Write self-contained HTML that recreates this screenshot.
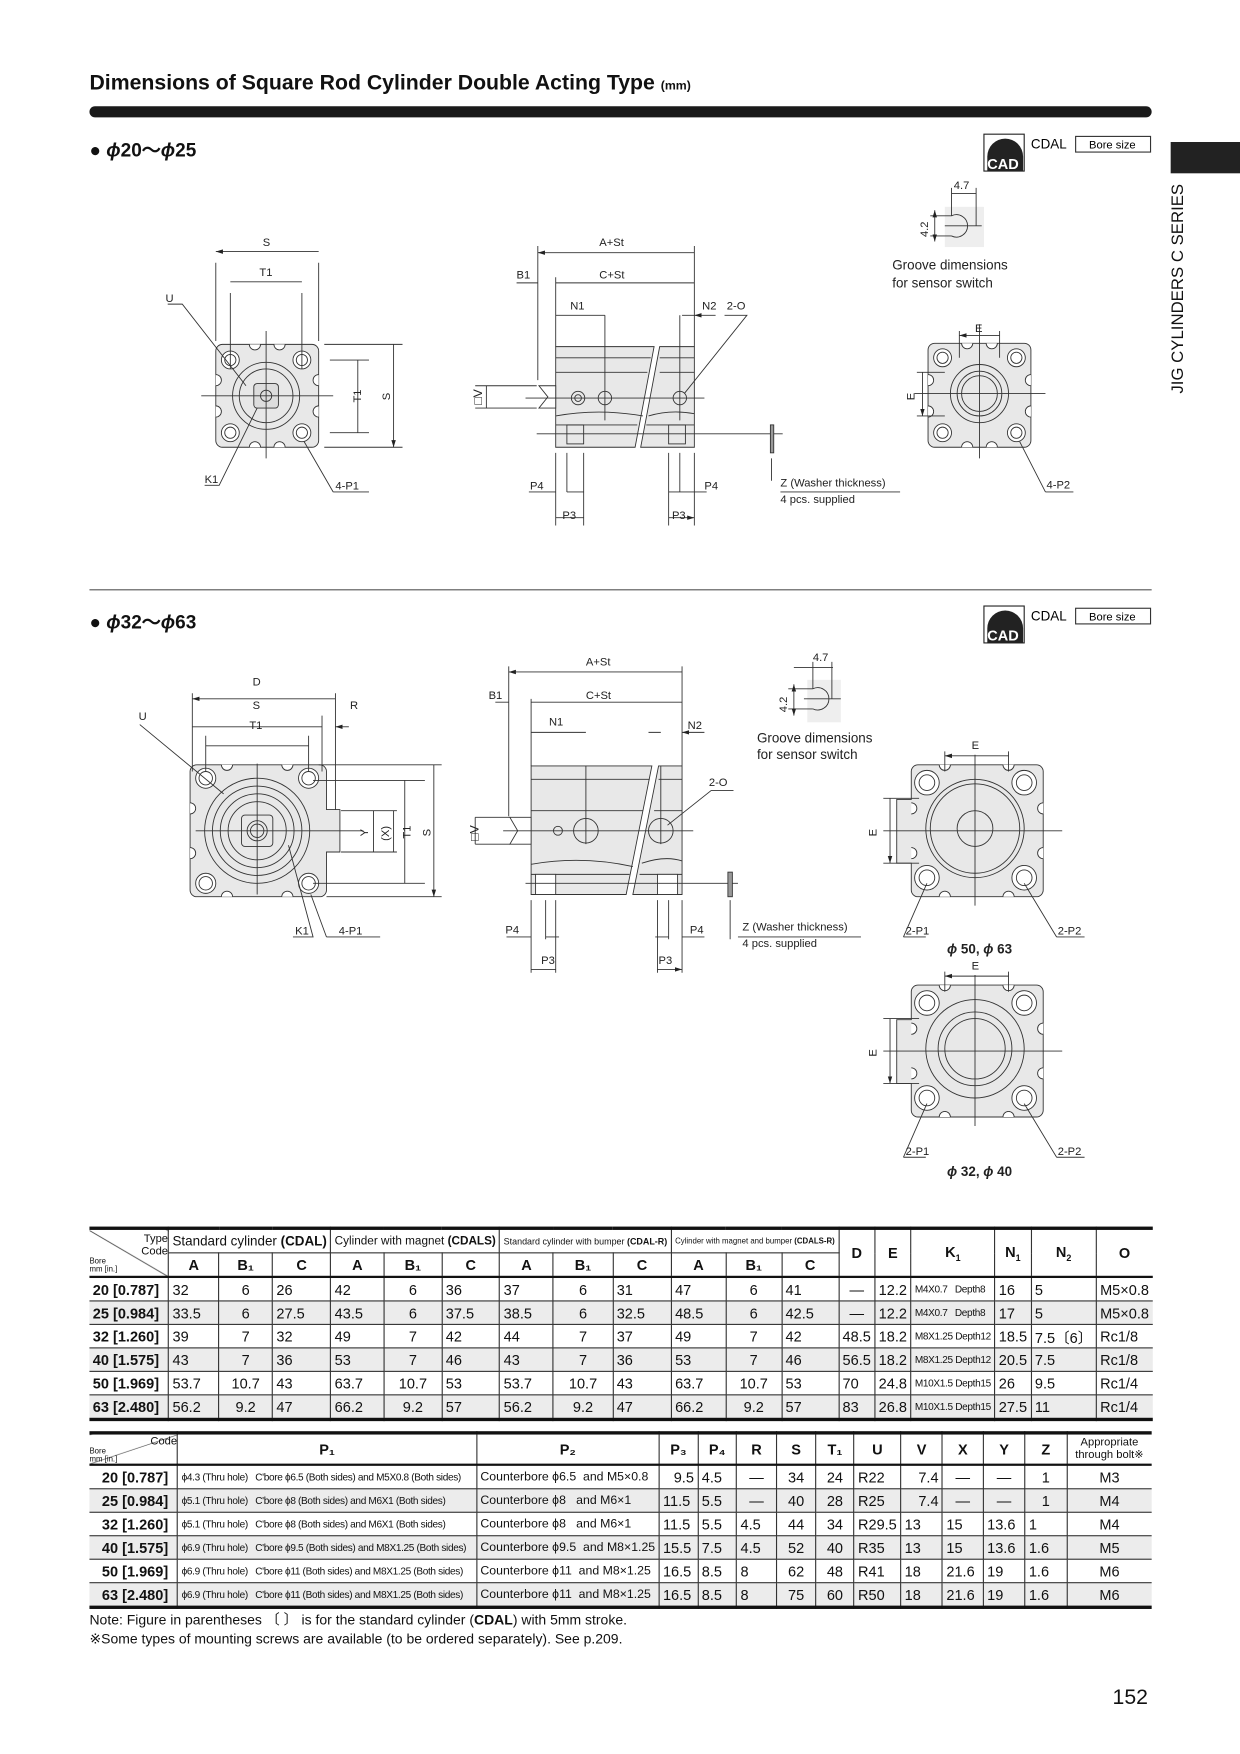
<!DOCTYPE html>
<html><head><meta charset="utf-8">
<style>
html,body{margin:0;padding:0;background:#fff;}
body{width:1240px;height:1754px;overflow:hidden;position:relative;font-family:"Liberation Sans",Arial,sans-serif;color:#111;}
#pg{position:absolute;left:0;top:0;width:1109px;height:1569px;transform:scale(1.11812);transform-origin:0 0;}
.abs{position:absolute;}
table{border-collapse:collapse;position:absolute;font-size:13px;}
td{border:1px solid #333;height:20px;padding:0 3px;white-space:nowrap;}
tr.g td{background:#ececec;}
td.b{font-weight:bold;text-align:right;padding-right:8px;font-size:13px;}
td.h{font-weight:bold;text-align:center;}
.t1{left:80px;top:1097px;width:950px;border-top:3px solid #111;border-bottom:3px solid #111;}
.t2{left:80px;top:1280px;width:950px;border-top:3px solid #111;border-bottom:3px solid #111;}
td.s{font-size:9px;letter-spacing:-0.3px;}
td.c{text-align:center;}
td.r{text-align:right;}
tr:first-child td{border-top:none}
tr:last-child td{border-bottom:none}
td:first-child{border-left:none}
td:last-child{border-right:none}
</style></head><body><div id="pg">
<div class="abs" style="left:80px;top:64px;font-size:19px;font-weight:bold;">Dimensions of Square Rod Cylinder Double Acting Type <span style="font-size:11px">(mm)</span></div>
<div class="abs" style="left:80px;top:95px;width:950px;height:10px;background:#1a1a1a;border-radius:5px;"></div>
<div class="abs" style="left:1047px;top:127px;width:62px;height:28px;background:#222;"></div>
<div class="abs" style="left:1045px;top:352px;transform:rotate(-90deg);transform-origin:0 0;font-size:15px;white-space:nowrap;">JIG CYLINDERS C SERIES</div>
<div class="abs" style="left:80px;top:120px;font-size:17px;font-weight:bold;">● <i>ϕ</i>20～<i>ϕ</i>25</div>
<div class="abs" style="left:80px;top:542px;font-size:17px;font-weight:bold;">● <i>ϕ</i>32～<i>ϕ</i>63</div>
<div class="abs" style="left:80px;top:527px;width:950px;height:1px;background:#555;"></div>
<div class="abs" style="left:995px;top:1508px;font-size:19px;">152</div>
<div class="abs" style="left:80px;top:1441px;font-size:12.5px;line-height:17px;">Note: Figure in parentheses 〔 〕 is for the standard cylinder (<b>CDAL</b>) with 5mm stroke.<br>※Some types of mounting screws are available (to be ordered separately). See p.209.</div>

<svg class="abs" style="left:0;top:0" width="1109" height="1100" viewBox="0 0 1109 1100" font-family="Liberation Sans,Arial,sans-serif" font-size="10">
<defs><marker id="a" markerWidth="8" markerHeight="6" refX="8" refY="3" orient="auto-start-reverse"><path d="M0,0.5 L8,3 L0,5.5" fill="#222"/></marker></defs>
<g id="cad"><rect x="880" y="120" width="36" height="33" fill="#fff" stroke="#222"/><path d="M883,153 V140 A15,15 0 0 1 915,140 V153Z" fill="#222"/><text x="883" y="151" fill="#fff" font-weight="bold" font-size="13">CAD</text><text x="922" y="133" font-size="12">CDAL</text><rect x="962" y="122" width="67" height="14" fill="#fff" stroke="#333"/><text x="974" y="133" font-size="10">Bore size</text></g>
<use href="#cad" transform="translate(0,422)"/>
<g stroke="#333" fill="none" stroke-width="0.8">
<rect x="193" y="308" width="92" height="92" rx="6" fill="#e8e8e8"/>
<circle cx="238" cy="354" r="30"/><circle cx="238" cy="354" r="24"/>
<rect x="227" y="343" width="22" height="22" rx="3" fill="#ddd"/><circle cx="238" cy="354" r="5"/>
<circle cx="206" cy="322" r="8" fill="#fff"/><circle cx="206" cy="322" r="5"/>
<circle cx="270" cy="322" r="8" fill="#fff"/><circle cx="270" cy="322" r="5"/>
<circle cx="206" cy="387" r="8" fill="#fff"/><circle cx="206" cy="387" r="5"/>
<circle cx="270" cy="387" r="8" fill="#fff"/><circle cx="270" cy="387" r="5"/>
<path d="M193,335 a5,5 0 0 1 0,10 M193,363 a5,5 0 0 1 0,10 M285,335 a5,5 0 0 0 0,10 M285,363 a5,5 0 0 0 0,10 M223,308 a5,5 0 0 0 10,0 M245,308 a5,5 0 0 0 10,0 M223,400 a5,5 0 0 1 10,0 M245,400 a5,5 0 0 1 10,0" fill="#fff"/>
<path d="M238,296 V410 M180,354 H298"/>
<path d="M193,235 V305 M285,235 V305 M206,262 V330 M270,262 V330 M290,308 H360 M290,400 H360 M295,322 H330 M295,387 H330"/>
<path d="M193,225 H285 M206,252 H270 M320,322 V387 M352,308 V400" marker-start="url(#a)" marker-end="url(#a)"/>
<path d="M150,272 H163 L220,345 M183,434 H196 L230,365 M298,440 H330 M298,440 L272,395"/>
<path d="M497,310 H585 L568,400 H497Z" fill="#e8e8e8"/><path d="M590,310 H621 V400 H573Z" fill="#e8e8e8"/>
<path d="M497,320 H582 M497,333 H579 M590,320 H621 M590,333 H621 M497,380 H570 M578,380 H621" />
<path d="M497,372 Q535,365 575,372 M580,372 Q600,366 621,370" />
<rect x="507" y="380" width="15" height="17"/><rect x="598" y="380" width="15" height="17"/>
<path d="M482,345 H497 V365 H482 L490,355Z" fill="#fff"/>
<circle cx="517" cy="356" r="6"/><circle cx="517" cy="356" r="3"/><circle cx="541" cy="356" r="6"/><circle cx="608" cy="356" r="6"/>
<path d="M470,356 H630 M480,388 H700 M541,282 V376 M608,282 V376"/>
<path d="M481,220 V340 M621,220 V310 M497,248 V310 M497,405 V470 M507,405 V440 M522,405 V470 M598,405 V470 M608,405 V440 M621,405 V470"/>
<path d="M481,226 H621 M497,253 H621 M497,282 H541 M435,345 V365 M497,463 H522 M598,463 H621" marker-start="url(#a)" marker-end="url(#a)"/>
<path d="M462,253 H481 M473,440 H497 M522,440 H507 M632,440 H608 M598,440 H608 M610,282 H621 M640,282 H621" marker-end="url(#a)"/>
<path d="M425,345 H480 M425,365 H480"/>
<path d="M648,282 H668 L612,352"/>
<rect x="689" y="380" width="3" height="25" fill="#999"/><path d="M690,410 V430 M698,440 H805"/>
<rect x="845" y="185" width="35" height="36" fill="#eee" stroke="none"/>
<path d="M851,193 A10,10 0 1 1 851,211 M845,202 H878 M851,173 H873 M851,168 V193 M873,168 V202 M832,193 H851 M832,211 H851" />
<path d="M836,188 V216" marker-start="url(#a)" marker-end="url(#a)"/>
<rect x="830" y="307" width="92" height="93" rx="6" fill="#e8e8e8"/>
<path d="M830,335 a5,5 0 0 1 0,10 M830,363 a5,5 0 0 1 0,10 M922,335 a5,5 0 0 0 0,10 M922,363 a5,5 0 0 0 0,10 M860,307 a5,5 0 0 0 10,0 M882,307 a5,5 0 0 0 10,0 M860,400 a5,5 0 0 1 10,0 M882,400 a5,5 0 0 1 10,0" fill="#fff"/>
<circle cx="876" cy="352" r="26"/><circle cx="876" cy="352" r="20"/><circle cx="876" cy="352" r="16"/>
<circle cx="843" cy="320" r="8" fill="#fff"/><circle cx="909" cy="320" r="8" fill="#fff"/><circle cx="843" cy="387" r="8" fill="#fff"/><circle cx="909" cy="387" r="8" fill="#fff"/>
<circle cx="843" cy="320" r="5"/><circle cx="909" cy="320" r="5"/><circle cx="843" cy="387" r="5"/><circle cx="909" cy="387" r="5"/>
<path d="M876,290 V410 M818,352 H935 M858,296 V320 M894,296 V320 M820,333 H845 M820,372 H845"/>
<path d="M858,300 H894 M825,333 V372" marker-start="url(#a)" marker-end="url(#a)"/>
<path d="M935,440 H960 M935,440 L912,395"/>

<path d="M170,690 a6,6 0 0 1 6,-6 H286 a6,6 0 0 1 6,6 V724 H304 V762 H292 V796 a6,6 0 0 1 -6,6 H176 a6,6 0 0 1 -6,-6Z" fill="#e8e8e8"/>
<path d="M170,718 a5,5 0 0 1 0,10 M170,758 a5,5 0 0 1 0,10 M198,684 a5,5 0 0 0 10,0 M252,684 a5,5 0 0 0 10,0 M198,802 a5,5 0 0 1 10,0 M252,802 a5,5 0 0 1 10,0" fill="#fff"/>
<circle cx="230" cy="743" r="47"/><circle cx="230" cy="743" r="40"/><circle cx="230" cy="743" r="33"/><circle cx="230" cy="743" r="26"/>
<rect x="216" y="729" width="28" height="28" rx="3"/><circle cx="230" cy="743" r="9"/><circle cx="230" cy="743" r="6"/>
<circle cx="184" cy="696" r="9" fill="#fff"/><circle cx="276" cy="696" r="9" fill="#fff"/><circle cx="184" cy="790" r="9" fill="#fff"/><circle cx="276" cy="790" r="9" fill="#fff"/>
<circle cx="184" cy="696" r="6"/><circle cx="276" cy="696" r="6"/><circle cx="184" cy="790" r="6"/><circle cx="276" cy="790" r="6"/>
<path d="M230,683 V800 M175,743 H325"/>
<path d="M172,620 V690 M300,620 V724 M288,640 V690 M184,658 V690 M276,658 V690 M285,684 H395 M280,698 H380 M305,725 H355 M305,762 H355 M280,790 H380 M292,802 H395"/>
<path d="M172,625 H300 M172,650 H288 M184,667 H276 M334,725 V762 M352,725 V762 M362,698 V790 M388,684 V802" marker-start="url(#a)" marker-end="url(#a)"/>
<path d="M312,650 H300" marker-end="url(#a)"/>
<path d="M125,648 L200,710 M262,838 H280 L258,756 M292,838 H340 M292,838 L278,800"/>
<path d="M475,685 H583 L560,800 H475Z" fill="#e8e8e8"/><path d="M589,685 H610 V800 H566Z" fill="#e8e8e8"/>
<path d="M475,697 H581 M475,725 H575 M589,697 H610 M585,725 H610 M475,782 H563 M572,782 H610"/>
<path d="M475,773 Q520,765 566,775 M574,772 Q595,765 610,770"/>
<rect x="479" y="782" width="18" height="18" fill="#fff"/><rect x="588" y="782" width="18" height="18" fill="#fff"/>
<path d="M456,731 H475 V755 H456 L463,743Z" fill="#fff"/>
<circle cx="499" cy="743" r="4"/><circle cx="524" cy="743" r="11"/><circle cx="591" cy="743" r="11"/>
<path d="M450,743 H620 M470,790 H660 M524,685 V755 M591,685 V755"/>
<path d="M455,596 V730 M610,596 V685 M475,625 V685 M475,805 V870 M488,805 V840 M497,805 V870 M588,805 V870 M598,805 V840 M610,805 V870"/>
<path d="M455,601 H610 M475,628 H610 M475,655 H524 M425,731 V755 M475,867 H497 M588,867 H610" marker-start="url(#a)" marker-end="url(#a)"/>
<path d="M443,628 H455 M453,838 H475 M500,838 H488 M586,838 H598 M630,838 H610 M580,655 H591 M630,655 H610" marker-end="url(#a)"/>
<path d="M425,731 H456 M425,755 H456 M656,707 H636 L597,738"/>
<rect x="651" y="780" width="4" height="22" fill="#999"/><path d="M653,805 V840 M660,838 H770"/>
<rect x="722" y="608" width="30" height="38" fill="#eee" stroke="none"/>
<path d="M727,616 A10,10 0 1 1 727,634 M719,625 H752 M710,597 H745 M727,592 V616 M744,592 V625 M705,616 H727 M705,634 H727"/>
<path d="M710,612 V640" marker-start="url(#a)" marker-end="url(#a)"/>
<g id="rv"><path d="M815,690 a6,6 0 0 1 6,-6 H927 a6,6 0 0 1 6,6 V796 a6,6 0 0 1 -6,6 H821 a6,6 0 0 1 -6,-6 V772 H802 V715 H815Z" fill="#e8e8e8"/>
<path d="M815,718 a5,5 0 0 1 0,10 M815,758 a5,5 0 0 1 0,10 M933,718 a5,5 0 0 0 0,10 M933,758 a5,5 0 0 0 0,10 M840,684 a5,5 0 0 0 10,0 M897,684 a5,5 0 0 0 10,0 M840,802 a5,5 0 0 1 10,0 M897,802 a5,5 0 0 1 10,0" fill="#fff"/>
<circle cx="829" cy="700" r="11" fill="#fff"/><circle cx="829" cy="700" r="7"/><circle cx="916" cy="700" r="11" fill="#fff"/><circle cx="916" cy="700" r="7"/>
<circle cx="829" cy="785" r="11" fill="#fff"/><circle cx="829" cy="785" r="7"/><circle cx="916" cy="785" r="11" fill="#fff"/><circle cx="916" cy="785" r="7"/>
<path d="M872,675 V810 M790,743 H950 M845,672 V690 M902,672 V690 M790,714 H822 M790,772 H822"/>
<path d="M845,676 H902 M796,714 V772" marker-start="url(#a)" marker-end="url(#a)"/>
<path d="M808,838 H828 M808,838 L829,790 M970,838 H945 M945,838 L916,790"/></g>
<circle cx="872" cy="741" r="44"/><circle cx="872" cy="741" r="40"/><circle cx="872" cy="741" r="16"/>
<use href="#rv" transform="translate(0,197)"/>
<circle cx="872" cy="938" r="44"/><circle cx="872" cy="938" r="33"/><circle cx="872" cy="938" r="27"/>
</g>
<g font-size="10" fill="#222">
<text x="235" y="220">S</text><text x="232" y="247">T1</text><text x="148" y="270">U</text><text x="183" y="432">K1</text><text x="300" y="438">4-P1</text>
<text transform="translate(323,360) rotate(-90)">T1</text><text transform="translate(349,358) rotate(-90)">S</text>
<text x="536" y="220">A+St</text><text x="462" y="249">B1</text><text x="536" y="249">C+St</text><text x="510" y="277">N1</text><text x="628" y="277">N2</text><text x="650" y="277">2-O</text>
<text transform="translate(431,362) rotate(-90)" font-size="11">□V</text>
<text x="474" y="438">P4</text><text x="630" y="438">P4</text><text x="503" y="464">P3</text><text x="601" y="464">P3</text>
<text x="698" y="435">Z (Washer thickness)</text><text x="698" y="450">4 pcs. supplied</text>
<text x="853" y="169">4.7</text><text transform="translate(830,212) rotate(-90)">4.2</text>
<text x="798" y="241" font-size="12">Groove dimensions</text><text x="798" y="257" font-size="12">for sensor switch</text>
<text x="872" y="297">E</text><text transform="translate(818,358) rotate(-90)">E</text><text x="936" y="437">4-P2</text>
<text x="226" y="613">D</text><text x="226" y="634">S</text><text x="223" y="652">T1</text><text x="313" y="634">R</text><text x="124" y="644">U</text>
<text transform="translate(329,748) rotate(-90)">Y</text><text transform="translate(348,752) rotate(-90)">(X)</text><text transform="translate(367,750) rotate(-90)">T1</text><text transform="translate(385,748) rotate(-90)">S</text>
<text x="264" y="836">K1</text><text x="303" y="836">4-P1</text>
<text x="524" y="595">A+St</text><text x="437" y="625">B1</text><text x="524" y="625">C+St</text><text x="491" y="649">N1</text><text x="615" y="652">N2</text><text x="634" y="703">2-O</text>
<text transform="translate(428,752) rotate(-90)" font-size="11">□V</text>
<text x="452" y="835">P4</text><text x="617" y="835">P4</text><text x="484" y="862">P3</text><text x="589" y="862">P3</text>
<text x="664" y="832">Z (Washer thickness)</text><text x="664" y="847">4 pcs. supplied</text>
<text x="727" y="591">4.7</text><text transform="translate(704,637) rotate(-90)">4.2</text>
<text x="677" y="664" font-size="12">Groove dimensions</text><text x="677" y="679" font-size="12">for sensor switch</text>
<text x="869" y="670">E</text><text transform="translate(784,748) rotate(-90)">E</text>
<text x="810" y="836">2-P1</text><text x="946" y="836">2-P2</text>
<text x="847" y="853" font-weight="bold" font-size="12"><tspan font-style="italic">ϕ</tspan> 50, <tspan font-style="italic">ϕ</tspan> 63</text>
<text x="869" y="867">E</text><text transform="translate(784,945) rotate(-90)">E</text>
<text x="810" y="1033">2-P1</text><text x="946" y="1033">2-P2</text>
<text x="847" y="1052" font-weight="bold" font-size="12"><tspan font-style="italic">ϕ</tspan> 32, <tspan font-style="italic">ϕ</tspan> 40</text>
</g>
</svg>

<table class="t1">
<colgroup><col style="width:80px"><col style="width:44px"><col style="width:47px"><col style="width:51px"><col style="width:45px"><col style="width:49px"><col style="width:49px"><col style="width:44px"><col style="width:49px"><col style="width:48px"><col style="width:47px"><col style="width:48px"><col style="width:49px"><col style="width:46px"><col style="width:47px"><col style="width:65px"><col style="width:44px"><col style="width:50px"><col style="width:48px"></colgroup>
<tr><td rowspan="2" style="font-size:9px;background:linear-gradient(to top right,#fff 49%,#333 50%,#fff 51%);padding:0;height:40px;"><div style="text-align:right;font-size:10px">Type</div><div style="text-align:right;font-size:10px">Code</div><div style="font-size:7px">Bore<br>mm [in.]</div></td>
<td colspan="3" style="font-size:12px">Standard cylinder <b>(CDAL)</b></td><td colspan="3" style="font-size:10.5px">Cylinder with magnet <b>(CDALS)</b></td><td colspan="3" style="font-size:8px">Standard cylinder with bumper <b>(CDAL-R)</b></td><td colspan="3" style="font-size:7px">Cylinder with magnet and bumper <b>(CDALS-R)</b></td>
<td rowspan="2" class="h">D</td><td rowspan="2" class="h">E</td><td rowspan="2" class="h">K<sub style="font-size:8px">1</sub></td><td rowspan="2" class="h">N<sub style="font-size:8px">1</sub></td><td rowspan="2" class="h">N<sub style="font-size:8px">2</sub></td><td rowspan="2" class="h">O</td></tr>
<tr><td class="h">A</td><td class="h">B₁</td><td class="h">C</td><td class="h">A</td><td class="h">B₁</td><td class="h">C</td><td class="h">A</td><td class="h">B₁</td><td class="h">C</td><td class="h">A</td><td class="h">B₁</td><td class="h">C</td></tr>
<tr style="border-top:2px solid #111"><td class="b">20 [0.787]</td><td>32</td><td class="c">6</td><td>26</td><td>42</td><td class="c">6</td><td>36</td><td>37</td><td class="c">6</td><td>31</td><td>47</td><td class="c">6</td><td>41</td><td class="c">—</td><td class="r">12.2</td><td class="s">M4X0.7 &nbsp; Depth8</td><td>16</td><td>5</td><td>M5×0.8</td></tr>
<tr class="g"><td class="b">25 [0.984]</td><td>33.5</td><td class="c">6</td><td>27.5</td><td>43.5</td><td class="c">6</td><td>37.5</td><td>38.5</td><td class="c">6</td><td>32.5</td><td>48.5</td><td class="c">6</td><td>42.5</td><td class="c">—</td><td class="r">12.2</td><td class="s">M4X0.7 &nbsp; Depth8</td><td>17</td><td>5</td><td>M5×0.8</td></tr>
<tr><td class="b">32 [1.260]</td><td>39</td><td class="c">7</td><td>32</td><td>49</td><td class="c">7</td><td>42</td><td>44</td><td class="c">7</td><td>37</td><td>49</td><td class="c">7</td><td>42</td><td>48.5</td><td class="r">18.2</td><td class="s">M8X1.25 Depth12</td><td>18.5</td><td>7.5〔6〕</td><td>Rc1/8</td></tr>
<tr class="g"><td class="b">40 [1.575]</td><td>43</td><td class="c">7</td><td>36</td><td>53</td><td class="c">7</td><td>46</td><td>43</td><td class="c">7</td><td>36</td><td>53</td><td class="c">7</td><td>46</td><td>56.5</td><td class="r">18.2</td><td class="s">M8X1.25 Depth12</td><td>20.5</td><td>7.5</td><td>Rc1/8</td></tr>
<tr><td class="b">50 [1.969]</td><td>53.7</td><td class="c">10.7</td><td>43</td><td>63.7</td><td class="c">10.7</td><td>53</td><td>53.7</td><td class="c">10.7</td><td>43</td><td>63.7</td><td class="c">10.7</td><td>53</td><td>70</td><td class="r">24.8</td><td class="s">M10X1.5 Depth15</td><td>26</td><td>9.5</td><td>Rc1/4</td></tr>
<tr class="g"><td class="b">63 [2.480]</td><td>56.2</td><td class="c">9.2</td><td>47</td><td>66.2</td><td class="c">9.2</td><td>57</td><td>56.2</td><td class="c">9.2</td><td>47</td><td>66.2</td><td class="c">9.2</td><td>57</td><td>83</td><td class="r">26.8</td><td class="s">M10X1.5 Depth15</td><td>27.5</td><td>11</td><td>Rc1/4</td></tr>
</table>

<table class="t2">
<colgroup><col style="width:80px"><col style="width:268px"><col style="width:156px"><col style="width:35px"><col style="width:36px"><col style="width:37px"><col style="width:37px"><col style="width:36px"><col style="width:35px"><col style="width:39px"><col style="width:37px"><col style="width:38px"><col style="width:39px"><col style="width:77px"></colgroup>
<tr style="border-bottom:2px solid #111"><td style="height:26px;padding:0;background:linear-gradient(to bottom right,#fff 49%,#333 50%,#fff 51%);"><div style="text-align:right;font-size:10px">Code</div><div style="font-size:7px">Bore<br>mm [in.]</div></td><td class="h">P₁</td><td class="h">P₂</td><td class="h">P₃</td><td class="h">P₄</td><td class="h">R</td><td class="h">S</td><td class="h">T₁</td><td class="h">U</td><td class="h">V</td><td class="h">X</td><td class="h">Y</td><td class="h">Z</td><td class="c" style="font-size:10px;line-height:11px">Appropriate<br>through bolt※</td></tr>
<tr><td class="b">20 [0.787]</td><td class="s">ϕ4.3 (Thru hole) &nbsp; C'bore ϕ6.5 (Both sides) and M5X0.8 (Both sides)</td><td style="font-size:11px">Counterbore ϕ6.5 &nbsp;and M5×0.8</td><td class="r">9.5</td><td>4.5</td><td class="c">—</td><td class="c">34</td><td class="c">24</td><td>R22</td><td class="r">7.4</td><td class="c">—</td><td class="c">—</td><td class="c">1</td><td class="c">M3</td></tr>
<tr class="g"><td class="b">25 [0.984]</td><td class="s">ϕ5.1 (Thru hole) &nbsp; C'bore ϕ8 (Both sides) and M6X1 (Both sides)</td><td style="font-size:11px">Counterbore ϕ8 &nbsp; and M6×1</td><td>11.5</td><td>5.5</td><td class="c">—</td><td class="c">40</td><td class="c">28</td><td>R25</td><td class="r">7.4</td><td class="c">—</td><td class="c">—</td><td class="c">1</td><td class="c">M4</td></tr>
<tr><td class="b">32 [1.260]</td><td class="s">ϕ5.1 (Thru hole) &nbsp; C'bore ϕ8 (Both sides) and M6X1 (Both sides)</td><td style="font-size:11px">Counterbore ϕ8 &nbsp; and M6×1</td><td>11.5</td><td>5.5</td><td>4.5</td><td class="c">44</td><td class="c">34</td><td>R29.5</td><td>13</td><td>15</td><td>13.6</td><td>1</td><td class="c">M4</td></tr>
<tr class="g"><td class="b">40 [1.575]</td><td class="s">ϕ6.9 (Thru hole) &nbsp; C'bore ϕ9.5 (Both sides) and M8X1.25 (Both sides)</td><td style="font-size:11px">Counterbore ϕ9.5 &nbsp;and M8×1.25</td><td>15.5</td><td>7.5</td><td>4.5</td><td class="c">52</td><td class="c">40</td><td>R35</td><td>13</td><td>15</td><td>13.6</td><td>1.6</td><td class="c">M5</td></tr>
<tr><td class="b">50 [1.969]</td><td class="s">ϕ6.9 (Thru hole) &nbsp; C'bore ϕ11 (Both sides) and M8X1.25 (Both sides)</td><td style="font-size:11px">Counterbore ϕ11 &nbsp;and M8×1.25</td><td>16.5</td><td>8.5</td><td>8</td><td class="c">62</td><td class="c">48</td><td>R41</td><td>18</td><td>21.6</td><td>19</td><td>1.6</td><td class="c">M6</td></tr>
<tr class="g"><td class="b">63 [2.480]</td><td class="s">ϕ6.9 (Thru hole) &nbsp; C'bore ϕ11 (Both sides) and M8X1.25 (Both sides)</td><td style="font-size:11px">Counterbore ϕ11 &nbsp;and M8×1.25</td><td>16.5</td><td>8.5</td><td>8</td><td class="c">75</td><td class="c">60</td><td>R50</td><td>18</td><td>21.6</td><td>19</td><td>1.6</td><td class="c">M6</td></tr>
</table>
</div></body></html>
